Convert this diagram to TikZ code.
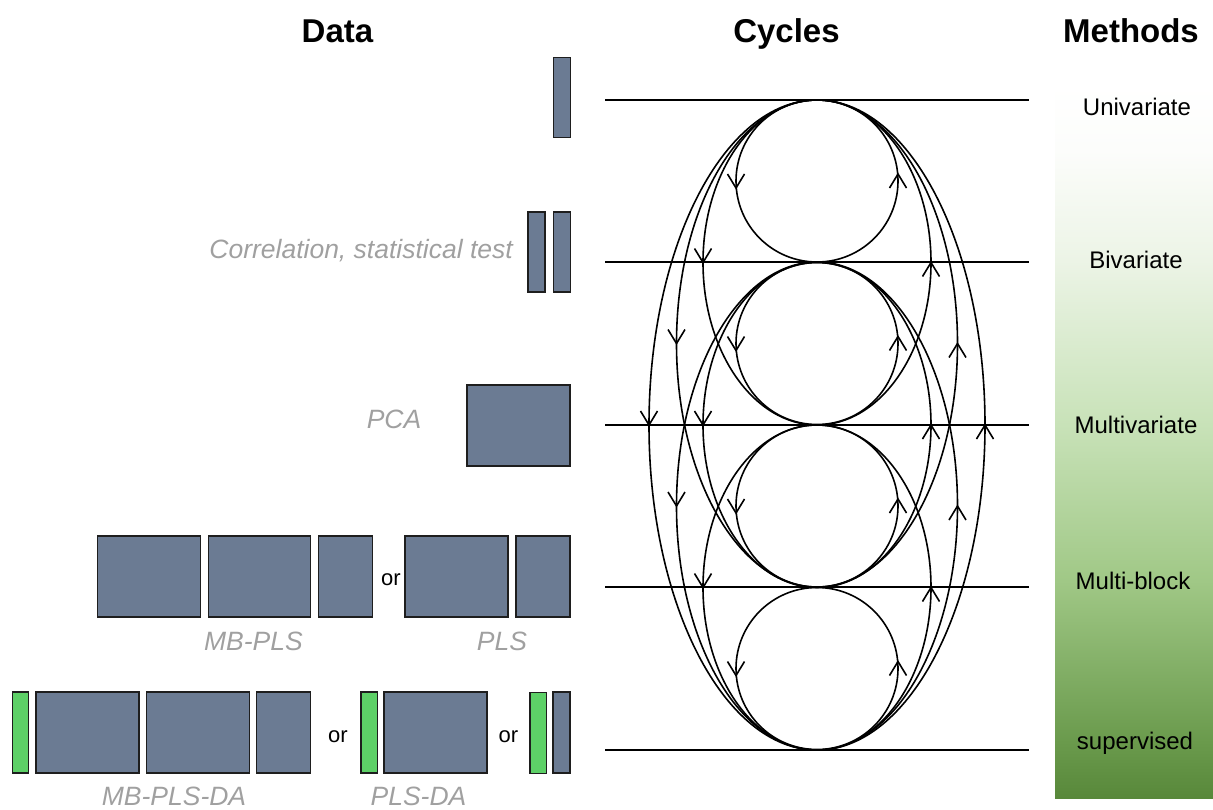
\documentclass[tikz,border=0pt]{standalone}
\usepackage{fontspec}
\setmainfont{Liberation Sans}
\definecolor{blockfill}{RGB}{107,123,147}
\definecolor{blockline}{RGB}{30,30,30}
\definecolor{dagreen}{RGB}{93,208,103}
\definecolor{labgray}{RGB}{160,160,160}
\definecolor{gA}{RGB}{88,136,58}
\definecolor{gB}{RGB}{106,154,76}
\definecolor{gC}{RGB}{160,200,134}
\definecolor{gD}{RGB}{200,226,184}
\definecolor{gE}{RGB}{236,244,230}
\definecolor{gF}{RGB}{252,253,251}
\pgfdeclareverticalshading{methodsgrad}{100bp}{color(0bp)=(gA); color(25bp)=(gA); color(28.9bp)=(gB); color(40.2bp)=(gC); color(51.1bp)=(gD); color(62.6bp)=(gE); color(70.3bp)=(gF); color(75bp)=(white); color(100bp)=(white)}
\begin{document}
\begin{tikzpicture}[x=1pt,y=1pt,
  blk/.style={draw=blockline, line width=1.4pt, fill=blockfill, inner sep=0pt, outer sep=0pt},
  grn/.style={blk, fill=dagreen},
  cell/.style 2 args={minimum width=#1pt, minimum height=#2pt},
  title/.style={font=\fontsize{33}{40}\selectfont\bfseries, anchor=base, inner sep=0pt},
  meth/.style={font=\fontsize{24}{29}\selectfont, anchor=base, inner sep=0pt},
  glab/.style={font=\fontsize{26.5}{32}\selectfont\itshape, text=labgray, anchor=base, inner sep=0pt},
  ortext/.style={font=\fontsize{22}{26}\selectfont, anchor=base, inner sep=0pt},
  hline/.style={line width=1.8pt},
  cycline/.style={line width=1.6pt},
  vtip/.style={line width=1.6pt, line join=miter},
  downs/.pic={\draw[vtip] (-8.5pt,7pt) -- (0pt,-7pt) -- (8.5pt,7pt);},
  ups/.pic={\draw[vtip] (-8.5pt,-7pt) -- (0pt,7pt) -- (8.5pt,-7pt);},
  downl/.pic={\draw[vtip] (-8.5pt,14pt) -- (0pt,0pt) -- (8.5pt,14pt);},
  upl/.pic={\draw[vtip] (-8.5pt,-14pt) -- (0pt,0pt) -- (8.5pt,-14pt);}
]
\useasboundingbox (0,0) rectangle (1213,-809);

% gradient bar
\shade[shading=methodsgrad] (1055,-798) rectangle (1213,-83);

% titles
\node[title] (tdata) at (337.5,-42) {Data};
\node[title] (tcyc) at (786.5,-42) {Cycles};
\node[title] (tmeth) at (1131,-42) {Methods};

% methods labels
\node[meth] (m1) at (1137,-115) {Univariate};
\node[meth] (m2) at (1136,-268) {Bivariate};
\node[meth] (m3) at (1136,-433) {Multivariate};
\node[meth] (m4) at (1133,-589) {Multi-block};
\node[meth] (m5) at (1135,-749) {supervised};

% data blocks
\node[blk, cell={17}{80}] (r1) at (561.75,-97.25) {};
\node[blk, cell={17}{80}] (r2a) at (536.5,-252) {};
\node[blk, cell={17}{80}] (r2b) at (561.75,-252) {};
\node[blk, cell={103}{81}] (r3) at (518.5,-425.5) {};
\node[blk, cell={103}{81}] (r4a) at (149,-576.5) {};
\node[blk, cell={102}{81}] (r4b) at (259.7,-576.5) {};
\node[blk, cell={54}{81}] (r4c) at (345.5,-576.5) {};
\node[blk, cell={103}{81}] (r4d) at (456.5,-576.5) {};
\node[blk, cell={54}{81}] (r4e) at (543,-576.5) {};
\node[grn, cell={16.5}{81}] (r5g1) at (20.5,-732.5) {};
\node[blk, cell={103}{81}] (r5a) at (87.3,-732.5) {};
\node[blk, cell={103}{81}] (r5b) at (198,-732.5) {};
\node[blk, cell={54}{81}] (r5c) at (283.7,-732.5) {};
\node[grn, cell={16.5}{81}] (r5g2) at (369.3,-732.5) {};
\node[blk, cell={103}{81}] (r5d) at (435.3,-732.5) {};
\node[grn, cell={16.5}{81}] (r5g3) at (538.3,-733) {};
\node[blk, cell={17}{81}] (r5e) at (561.5,-732.5) {};

% gray labels
\node[glab, anchor=base east] (lcorr) at (513,-258) {Correlation, statistical test};
\node[glab] (lpca) at (394,-428) {PCA};
\node[glab] (lmbpls) at (253.5,-650) {MB-PLS};
\node[glab] (lpls) at (502,-650) {PLS};
\node[glab] (lmbplsda) at (174,-805) {MB-PLS-DA};
\node[glab] (lplsda) at (418.5,-805) {PLS-DA};

% or
\node[ortext] (or1) at (391,-585) {or};
\node[ortext] (or2) at (338,-742) {or};
\node[ortext] (or3) at (508.5,-742) {or};

% horizontal levels
\foreach \i/\y in {1/100,2/262,3/425,4/587,5/750}{
  \coordinate (L\i) at (605,-\y);
  \coordinate (R\i) at (1029,-\y);
  \draw[hline] (L\i) -- (R\i);
}

% one-level cycles: centre y
\foreach \k/\cy in {1/181, 2/343.5, 3/506, 4/668.5}{
  \coordinate (C\k) at (817,-\cy);
  \coordinate (W\k) at (736,-\cy);
  \coordinate (E\k) at (898,-\cy);
  \draw[cycline] (C\k) circle[radius=81];
  \pic at (W\k) {downs};
  \pic at (E\k) {ups};
}
% larger cycles: centre y / x radius / y radius
\foreach \k/\cy/\a/\b in {5/262.5/114/162.5, 6/425/114/162.5, 7/587.5/114/162.5,
                          8/343.5/140.5/243.5, 9/506/140.5/244,
                          10/425/168/325}{
  \coordinate (C\k) at (817,-\cy);
  \coordinate (W\k) at (817-\a,-\cy);
  \coordinate (E\k) at (817+\a,-\cy);
  \draw[cycline] (C\k) ellipse[x radius=\a, y radius=\b];
  \pic at (W\k) {downl};
  \pic at (E\k) {upl};
}
\end{tikzpicture}
\end{document}
